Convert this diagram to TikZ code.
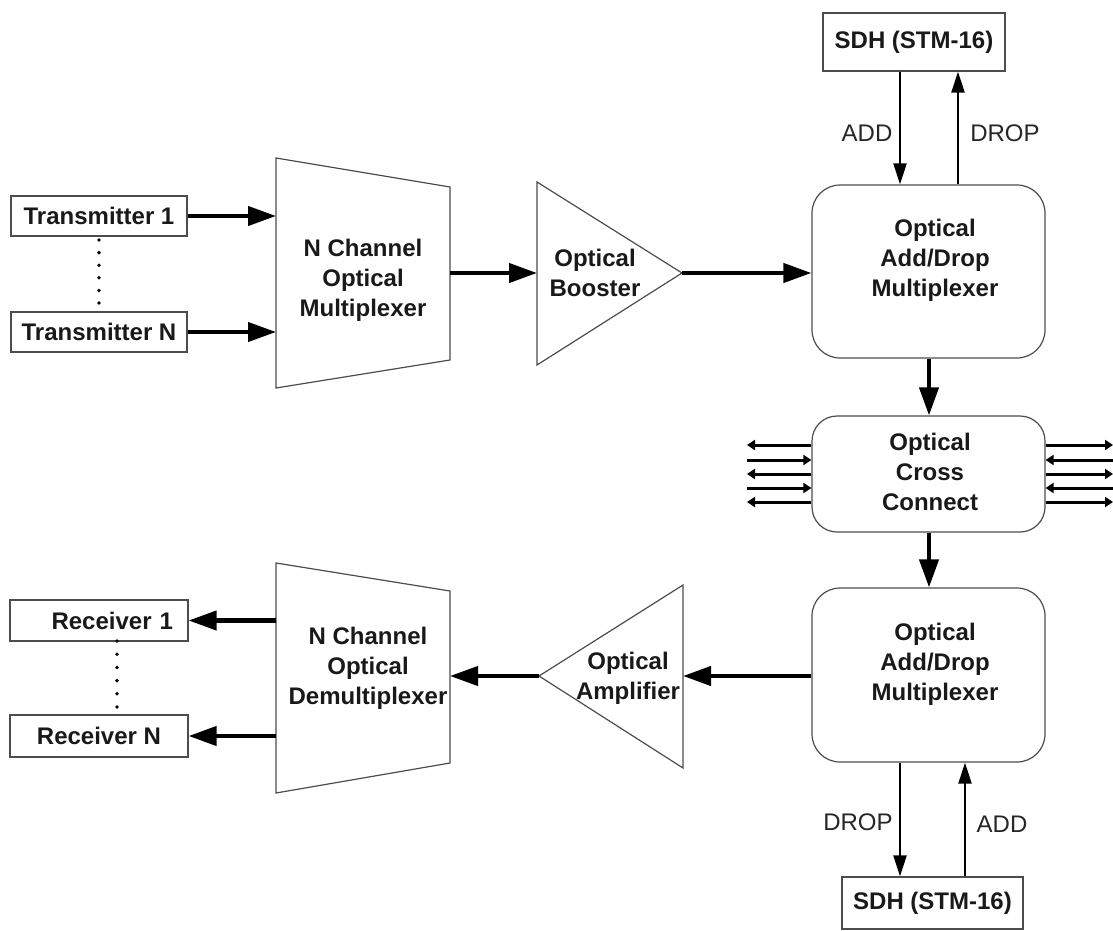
\documentclass[tikz,border=0pt]{standalone}
\usepackage{fontspec}
\setmainfont{Liberation Sans}
\usetikzlibrary{arrows.meta}
\begin{document}
\begin{tikzpicture}[x=1pt,y=-1pt,
  font=\fontsize{24}{30}\selectfont,
  shp/.style={draw=black!70, line width=1.2pt},
  box/.style={shp, inner sep=0pt, font=\fontsize{24}{30}\selectfont\bfseries, text=black!90},
  rbox/.style={shp, rounded corners=28pt, inner sep=0pt},
  txt/.style={font=\fontsize{24}{30}\selectfont\bfseries, align=center, text=black!90, inner sep=0pt},
  lbl/.style={font=\fontsize{24}{30}\selectfont, text=black!85, inner sep=0pt},
  mainarr/.style={line width=4.2pt, -{Triangle[length=28pt,width=19pt]}},
  thinarr/.style={line width=2.2pt, -{Triangle[length=21pt,width=13pt]}},
  smallarr/.style={line width=3pt, -{Triangle[length=8pt,width=10pt]}},
  dot/.style={circle, fill=black, inner sep=0pt, minimum size=3.8pt}
]
\useasboundingbox (0,0) rectangle (1113,931);

% transmitters
\node[box, minimum width=176, minimum height=40] (t1) at (99,216) {Transmitter 1};
\node[box, minimum width=176, minimum height=40] (tn) at (99,332) {Transmitter N};
\foreach \i in {0,...,5} \node[dot] at (99,{240+12.6*\i}) {};

% multiplexer
\draw[shp] (276,158) -- (450,187) -- (450,360) -- (276,388) -- cycle;
\coordinate (muxW) at (276,273);
\coordinate (muxE) at (450,273);
\node[txt] (mux) at (363,280) {N Channel\\Optical\\Multiplexer};
\draw[mainarr] (t1.east) -- (t1.east -| muxW);
\draw[mainarr] (tn.east) -- (tn.east -| muxW);

% booster
\draw[shp] (537,182) -- (682,273) -- (537,365) -- cycle;
\coordinate (boostW) at (537,273);
\coordinate (boostE) at (682,273);
\node[txt] (boost) at (595,273) {Optical\\Booster};
\draw[mainarr] (muxE) -- (boostW);

% OADM 1
\node[rbox, minimum width=233, minimum height=173] (oadm1) at (928.5,271.5) {};
\node[txt] (oadm1t) at (935,260) {Optical\\Add/Drop\\Multiplexer};
\draw[mainarr] (boostE) -- (boostE -| oadm1.west);

% SDH 1
\node[box, minimum width=182, minimum height=58] (sdh1) at (914,42) {SDH (STM-16)};
\coordinate (a1) at (900,0);
\coordinate (d1) at (958,0);
\draw[thinarr] (sdh1.south -| a1) -- (oadm1.north -| a1);
\draw[thinarr] (oadm1.north -| d1) -- (sdh1.south -| d1);
\node[lbl] (add1) at (867,133) {ADD};
\node[lbl] (drop1) at (1005,133) {DROP};

% OXC
\node[rbox, rounded corners=25pt, minimum width=233, minimum height=116] (oxc) at (928.5,474) {};
\node[txt] (oxct) at (930,472) {Optical\\Cross\\Connect};
\coordinate (c1) at (929,0);
\draw[mainarr] (oadm1.south -| c1) -- (oxc.north -| c1);

\foreach \y in {445,474,502} {
  \coordinate (pl) at (747,\y);
  \coordinate (pr) at (1113,\y);
  \draw[smallarr] (oxc.west |- pl) -- (pl);
  \draw[smallarr] (oxc.east |- pr) -- (pr);
}
\foreach \y in {460,488} {
  \coordinate (pl) at (747,\y);
  \coordinate (pr) at (1113,\y);
  \draw[smallarr] (pl) -- (oxc.west |- pl);
  \draw[smallarr] (pr) -- (oxc.east |- pr);
}

% OADM 2
\node[rbox, minimum width=233, minimum height=174] (oadm2) at (928.5,675) {};
\node[txt] (oadm2t) at (935,664) {Optical\\Add/Drop\\Multiplexer};
\draw[mainarr] (oxc.south -| c1) -- (oadm2.north -| c1);

% SDH 2
\node[box, minimum width=181, minimum height=52] (sdh2) at (932.5,903) {SDH (STM-16)};
\coordinate (d2) at (900,0);
\coordinate (a2) at (965,0);
\draw[thinarr] (oadm2.south -| d2) -- (sdh2.north -| d2);
\draw[thinarr] (sdh2.north -| a2) -- (oadm2.south -| a2);
\node[lbl] (drop2) at (858,822) {DROP};
\node[lbl] (add2) at (1002,824) {ADD};

% amplifier
\draw[shp] (683,585) -- (683,768) -- (539,676) -- cycle;
\coordinate (ampE) at (683,676);
\coordinate (ampW) at (539,676);
\node[txt] (amp) at (628,678) {Optical\\Amplifier};
\draw[mainarr] (oadm2.west |- ampE) -- (ampE);

% demultiplexer
\draw[shp] (276,563) -- (450,591) -- (450,763) -- (276,793) -- cycle;
\coordinate (dmxE) at (450,676);
\coordinate (dmxW) at (276,676);
\node[txt] (dmx) at (368,668) {N Channel\\Optical\\Demultiplexer};
\draw[mainarr] (ampW) -- (dmxE);

% receivers
\node[box, minimum width=178, minimum height=41, text width=148pt, inner xsep=15pt, align=right] (r1) at (99,620.5) {Receiver 1};
\node[box, minimum width=178, minimum height=42] (rn) at (99,736) {Receiver N};
\foreach \i in {0,...,5} \node[dot] at (117,{641+13.2*\i}) {};
\draw[mainarr] (r1.east -| dmxW) -- (r1.east);
\draw[mainarr] (rn.east -| dmxW) -- (rn.east);
\end{tikzpicture}
\end{document}
